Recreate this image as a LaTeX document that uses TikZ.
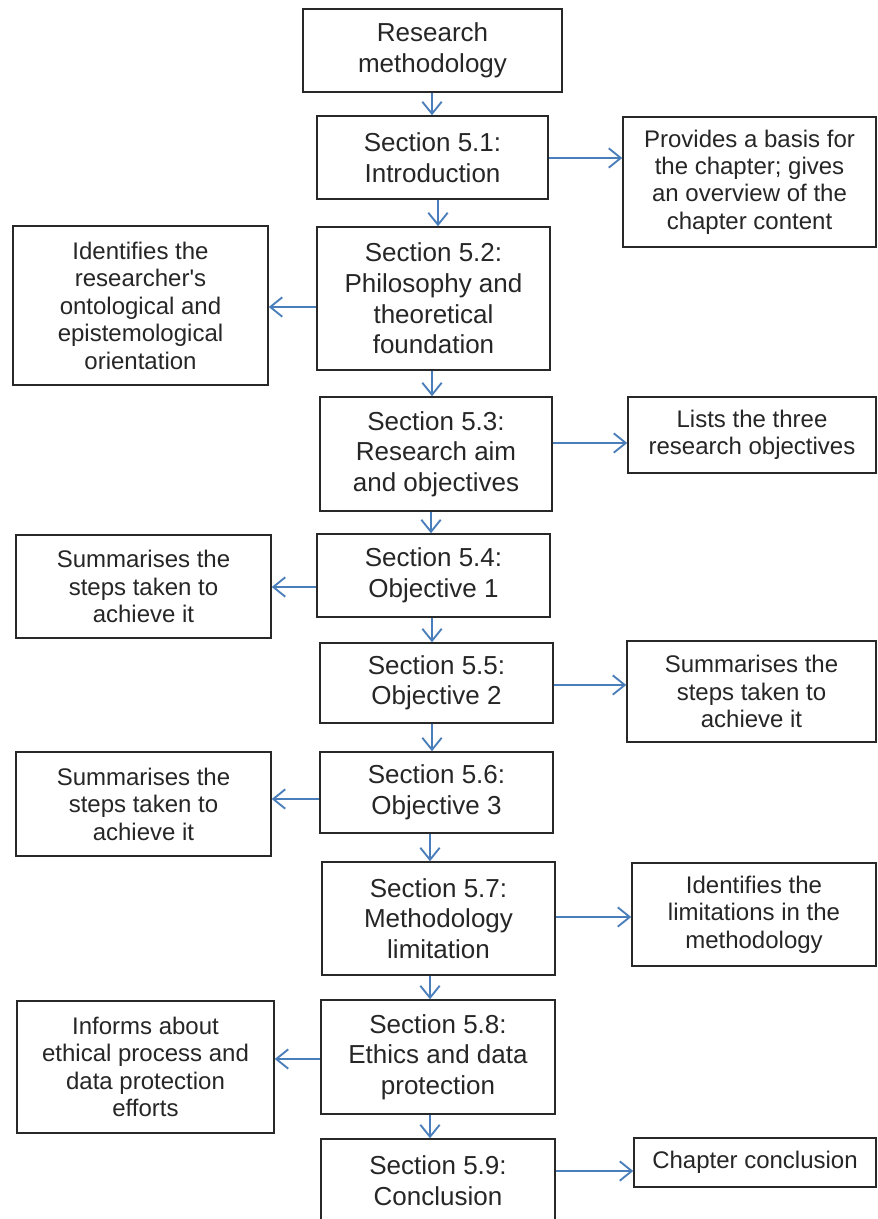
\documentclass[tikz,border=0pt]{standalone}
\usepackage{fontspec}
% plain family: no TeX ligature mapping, so ' stays a straight quote
\newfontfamily\diagfont{Liberation Sans}
\usetikzlibrary{arrows.meta,calc}
\definecolor{linkblue}{RGB}{74,126,187}
\definecolor{framegray}{RGB}{40,40,40}
\begin{document}
\begin{tikzpicture}[x=0.75pt,y=-0.75pt,
  box/.style={draw=framegray,line width=1.1pt,fill=white,align=center,inner sep=0pt,text=black!85},
  mainbox/.style={box,font=\diagfont\fontsize{19.5pt}{22.9pt}\selectfont},
  notebox/.style={box,font=\diagfont\fontsize{18pt}{20.6pt}\selectfont},
  arr/.style={draw=linkblue,line width=1.4pt,
    -{Straight Barb[length=9pt,width=14.5pt,line width=1.4pt]}}
]
\clip (0,0) rectangle (877,1219);
\fill[white] (0,0) rectangle (877,1219);

% main column
\node[mainbox,minimum width=194.25pt,minimum height=62.25pt] (rm) at (432.5,50.5) {Research\\methodology};
\node[mainbox,minimum width=173.25pt,minimum height=62.25pt] (s1) at (432.5,157.5) {Section 5.1:\\Introduction};
\node[mainbox,minimum width=174.75pt,minimum height=107.25pt] (s2) at (433.5,298.5) {Section 5.2:\\Philosophy and\\theoretical\\foundation};
\node[mainbox,minimum width=174pt,minimum height=85.5pt] (s3) at (436,454) {Section 5.3:\\Research aim\\and objectives};
\node[mainbox,minimum width=174.75pt,minimum height=62.25pt] (s4) at (433.5,575.5) {Section 5.4:\\Objective 1};
\node[mainbox,minimum width=174.75pt,minimum height=60pt] (s5) at (436.5,683) {Section 5.5:\\Objective 2};
\node[mainbox,minimum width=174.75pt,minimum height=60.75pt] (s6) at (436.5,792.5) {Section 5.6:\\Objective 3};
\node[mainbox,minimum width=174.75pt,minimum height=84.75pt] (s7) at (438.5,918.5) {Section 5.7:\\Methodology\\limitation};
\node[mainbox,minimum width=175.5pt,minimum height=85.5pt] (s8) at (438,1057) {Section 5.8:\\Ethics and data\\protection};
\node[mainbox,minimum width=175.5pt,minimum height=62.25pt] (s9) at (438,1180.5) {Section 5.9:\\Conclusion};

% side notes
\node[notebox,minimum width=189.75pt,minimum height=97.5pt] (prov) at (749.5,182) {Provides a basis for\\the chapter; gives\\an overview of the\\chapter content};
\node[notebox,minimum width=191.25pt,minimum height=119.25pt] (idn) at (140.5,305.5) {Identifies the\\researcher's\\ontological and\\epistemological\\orientation};
\node[notebox,minimum width=186pt,minimum height=57pt] (lists) at (752,435) {Lists the three\\research objectives};
\node[notebox,minimum width=191.25pt,minimum height=77.25pt] (sum4) at (143.5,586.5) {Summarises the\\steps taken to\\achieve it};
\node[notebox,minimum width=186.75pt,minimum height=75.75pt] (sum5) at (751.5,691.5) {Summarises the\\steps taken to\\achieve it};
\node[notebox,minimum width=191.25pt,minimum height=78pt] (sum6) at (143.5,804) {Summarises the\\steps taken to\\achieve it};
\node[notebox,minimum width=183pt,minimum height=77.25pt] (lim) at (754,914.5) {Identifies the\\limitations in the\\methodology};
\node[notebox,minimum width=192.75pt,minimum height=99pt] (inf) at (145.5,1067) {Informs about\\ethical process and\\data protection\\efforts};
\node[notebox,minimum width=181.5pt,minimum height=36.75pt] (concl) at (755,1162.5) {Chapter conclusion};

% spine of downward links
\coordinate (spine) at (432,0);
\draw[arr] (rm.south -| spine) -- (s1.north -| spine);
\draw[arr] ($(s1.south -| spine)+(6,0)$) -- ($(s2.north -| spine)+(6,0)$);
\draw[arr] (s2.south -| spine) -- (s3.north -| spine);
\draw[arr] ($(s3.south -| spine)+(-1,0)$) -- ($(s4.north -| spine)+(-1,0)$);
\draw[arr] (s4.south -| spine) -- (s5.north -| spine);
\draw[arr] (s5.south -| spine) -- (s6.north -| spine);
\draw[arr] ($(s6.south -| spine)+(-2,0)$) -- ($(s7.north -| spine)+(-2,0)$);
\draw[arr] ($(s7.south -| spine)+(-2,0)$) -- ($(s8.north -| spine)+(-2,0)$);
\draw[arr] ($(s8.south -| spine)+(-2,0)$) -- ($(s9.north -| spine)+(-2,0)$);

% links to the side notes
\draw[arr] ($(s1.east)+(0,0.5)$) -- ($(s1.east -| prov.west)+(0,0.5)$);
\draw[arr] ($(s2.west)+(0,8.5)$) -- ($(s2.west -| idn.east)+(0,8.5)$);
\draw[arr] ($(s3.east)+(0,-11)$) -- ($(s3.east -| lists.west)+(0,-11)$);
\draw[arr] ($(s4.west)+(0,11.5)$) -- ($(s4.west -| sum4.east)+(0,11.5)$);
\draw[arr] ($(s5.east)+(0,2)$) -- ($(s5.east -| sum5.west)+(0,2)$);
\draw[arr] ($(s6.west)+(0,6.5)$) -- ($(s6.west -| sum6.east)+(0,6.5)$);
\draw[arr] ($(s7.east)+(0,-1.5)$) -- ($(s7.east -| lim.west)+(0,-1.5)$);
\draw[arr] ($(s8.west)+(0,2)$) -- ($(s8.west -| inf.east)+(0,2)$);
\draw[arr] ($(s9.east)+(0,-9.5)$) -- ($(s9.east -| concl.west)+(0,-9.5)$);
\end{tikzpicture}
\end{document}
